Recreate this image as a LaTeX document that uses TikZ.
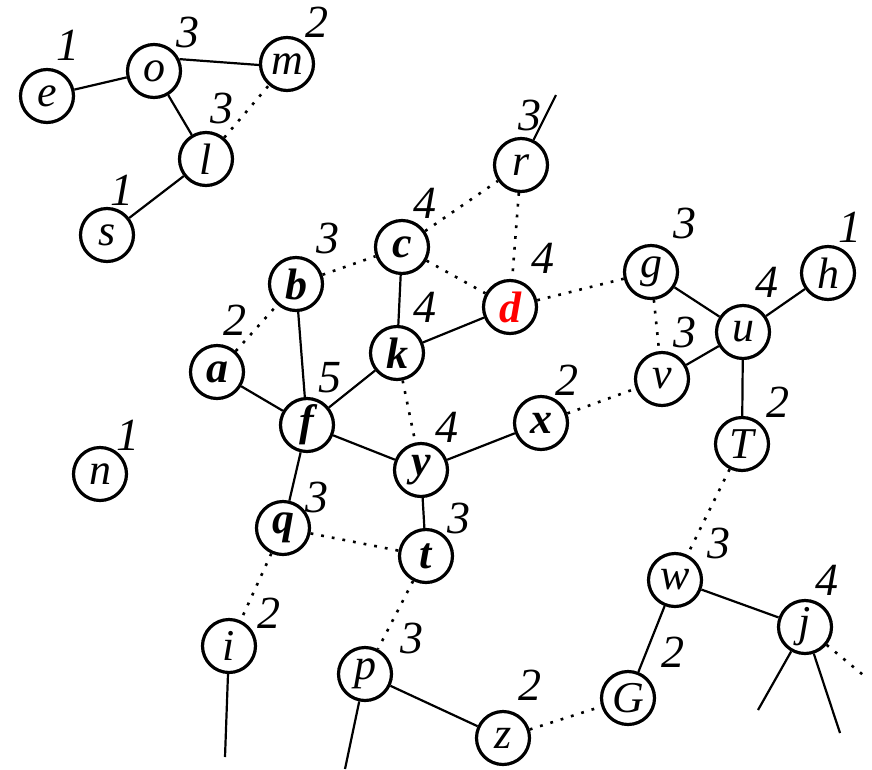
\documentclass[tikz,border=0pt]{standalone}
\usepackage{fontspec}
\setmainfont{Liberation Serif}

\begin{document}
\begin{tikzpicture}[x=1pt, y=-1pt,
        vert/.style={circle, draw, line width=3.2pt, minimum size=53pt, inner sep=0pt,
            font=\fontsize{44}{44}\selectfont\itshape},
        bvert/.style={vert, font=\fontsize{44}{44}\selectfont\bfseries\itshape},
        deg/.style={inner sep=0pt, font=\fontsize{46}{46}\selectfont\itshape},
        tree/.style={line width=2.2pt},
        back/.style={line width=2.6pt, dash pattern=on 2.8pt off 8pt}
    ]
        \useasboundingbox (0,0) rectangle (872,769);

        % Vertices
        \node [vert] (e) at (47,96) {e};
        \node [vert] (o) at (154,71) {o};
        \node [vert] (m) at (287,64) {m};
        \node [vert] (l) at (206,159) {l};
        \node [vert] (s) at (107,235) {s};
        \node [vert] (r) at (521,165) {r};
        \node [bvert] (c) at (402,247) {c};
        \node [bvert] (b) at (296,284) {b};
        \node [bvert, text=red] (d) at (510,307) {d};
        \node [bvert] (a) at (217,372) {a};
        \node [bvert] (k) at (397,353) {k};
        \node [bvert] (f) at (307,425) {f};
        \node [bvert] (x) at (541,423) {x};
        \node [vert] (g) at (651,272) {g};
        \node [vert] (h) at (828,273) {h};
        \node [vert] (u) at (743,332) {u};
        \node [vert] (v) at (662,379) {v};
        \node [vert] (T) at (742,444) {T};
        \node [vert] (n) at (100,474) {n};
        \node [bvert] (y) at (421,470) {y};
        \node [bvert] (q) at (283,528) {q};
        \node [bvert] (t) at (426,556) {t};
        \node [vert] (i) at (229,646) {i};
        \node [vert] (p) at (365,674) {p};
        \node [vert] (z) at (503,738) {z};
        \node [vert] (w) at (675,580) {w};
        \node [vert] (j) at (805,627) {j};
        \node [vert] (G) at (628,698) {G};

        % Loose ends
        \coordinate (r-up) at (556,95);
        \coordinate (i-dn) at (225,757);
        \coordinate (p-dn) at (345,769);
        \coordinate (j-dl) at (758,710);
        \coordinate (j-dr) at (840,733);
        \coordinate (j-out) at (868,679);

        % Degrees
        \node [deg] (e-deg) at (68,45) {1};
        \node [deg] (o-deg) at (188,32) {3};
        \node [deg] (m-deg) at (317,22) {2};
        \node [deg] (l-deg) at (222,108) {3};
        \node [deg] (s-deg) at (122,190) {1};
        \node [deg] (r-deg) at (530,115) {3};
        \node [deg] (c-deg) at (425,203) {4};
        \node [deg] (b-deg) at (328,238) {3};
        \node [deg] (d-deg) at (543,258) {4};
        \node [deg] (a-deg) at (235,320) {2};
        \node [deg] (k-deg) at (425,307) {4};
        \node [deg] (f-deg) at (330,378) {5};
        \node [deg] (y-deg) at (447,427) {4};
        \node [deg] (x-deg) at (567,380) {2};
        \node [deg] (g-deg) at (685,223) {3};
        \node [deg] (h-deg) at (850,227) {1};
        \node [deg] (u-deg) at (767,282) {4};
        \node [deg] (v-deg) at (685,332) {3};
        \node [deg] (T-deg) at (778,402) {2};
        \node [deg] (n-deg) at (128,435) {1};
        \node [deg] (q-deg) at (317,497) {3};
        \node [deg] (t-deg) at (459,518) {3};
        \node [deg] (i-deg) at (269,613) {2};
        \node [deg] (p-deg) at (412,638) {3};
        \node [deg] (z-deg) at (530,685) {2};
        \node [deg] (w-deg) at (719,543) {3};
        \node [deg] (j-deg) at (827,580) {4};
        \node [deg] (G-deg) at (673,652) {2};

        % Tree edges
        \draw[tree] (e) -- (o);
        \draw[tree] (o.25) -- (m.182);
        \draw[tree] (o) -- (l);
        \draw[tree] (l) -- (s);
        \draw[tree] (r) -- (r-up);
        \draw[tree] (c) -- (k);
        \draw[tree] (k) -- (d);
        \draw[tree] (b) -- (f);
        \draw[tree] (a) -- (f);
        \draw[tree] (k) -- (f);
        \draw[tree] (f) -- (y);
        \draw[tree] (y) -- (x);
        \draw[tree] (f) -- (q);
        \draw[tree] (y) -- (t);
        \draw[tree] (g) -- (u);
        \draw[tree] (u) -- (h);
        \draw[tree] (u) -- (v);
        \draw[tree] (u) -- (T);
        \draw[tree] (i) -- (i-dn);
        \draw[tree] (p) -- (p-dn);
        \draw[tree] (p) -- (z);
        \draw[tree] (w) -- (G);
        \draw[tree] (w) -- (j);
        \draw[tree] (j) -- (j-dl);
        \draw[tree] (j) -- (j-dr);

        % Back edges
        \draw[back] (l) -- (m);
        \draw[back] (b) -- (c);
        \draw[back] (c) -- (r);
        \draw[back] (c) -- (d);
        \draw[back] (r) -- (d);
        \draw[back] (a) -- (b);
        \draw[back] (d) -- (g);
        \draw[back] (k) -- (y);
        \draw[back] (x) -- (v);
        \draw[back] (g) -- (v);
        \draw[back] (T) -- (w);
        \draw[back] (q) -- (t);
        \draw[back] (q) -- (i);
        \draw[back] (t) -- (p);
        \draw[back] (z) -- (G);
        \draw[back] (j) -- (j-out);
    \end{tikzpicture}
\end{document}
